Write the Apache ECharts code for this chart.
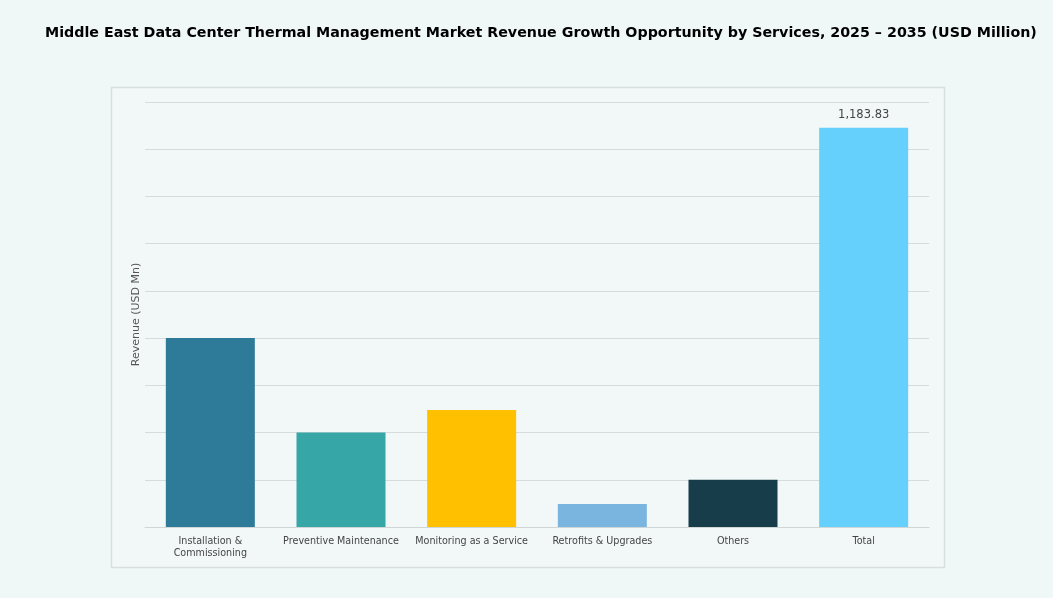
<!DOCTYPE html>
<html><head><meta charset="utf-8">
<script src="https://cdn.jsdelivr.net/npm/echarts@6/dist/echarts.min.js"></script>
<style>html,body{margin:0;padding:0;background:#f0f7f7;}#c{width:1053px;height:598px;}</style>
</head><body><div id="c"></div>
<script>
const categories = ['Installation &\nCommissioning','Preventive Maintenance','Monitoring as a Service','Retrofits & Upgrades','Others','Total'];
const values = [560, 280, 347, 68, 140, 1183.83];
const colors = ['#2e7a99','#36a6a6','#ffc000','#7ab5e0','#173c4a','#66d0fc'];
const chart = echarts.init(document.getElementById('c'));
chart.setOption({
  backgroundColor:'#f0f7f7',
  animation:false,
  title:{text:'Middle East Data Center Thermal Management Market Revenue Growth Opportunity by Services, 2025 – 2035 (USD Million)',left:40,top:21,textStyle:{fontFamily:'DejaVu Sans',fontWeight:'bold',fontSize:14.25,color:'#000'}},
  graphic:[{type:'rect',shape:{x:111.5,y:87.5,width:833,height:480},style:{fill:'#f2f8f8',stroke:'#d8dede',lineWidth:1.5},z:-1}],
  grid:{left:145,right:124,top:102,bottom:71},
  xAxis:{type:'category',data:categories,axisTick:{show:false},axisLine:{lineStyle:{color:'#d0d6d6'}},
    axisLabel:{fontFamily:'DejaVu Sans',fontSize:9.6,color:'#444',lineHeight:12,interval:0}},
  yAxis:{type:'value',min:0,max:1260,interval:140,axisLabel:{show:false},
    splitLine:{lineStyle:{color:'#d6dcdc'}},
    name:'Revenue (USD Mn)',nameLocation:'middle',nameGap:3,nameRotate:90,
    nameTextStyle:{fontFamily:'DejaVu Sans',fontSize:11,color:'#555'}},
  series:[{type:'bar',barWidth:89,
    data:values.map((v,i)=>({value:v,itemStyle:{color:colors[i]},
      label:{show:i===5,position:'top',distance:7,fontFamily:'DejaVu Sans',fontSize:11.5,color:'#444',
        formatter:p=>p.value.toLocaleString('en-US',{minimumFractionDigits:2})}}))}]
});
</script></body></html>
